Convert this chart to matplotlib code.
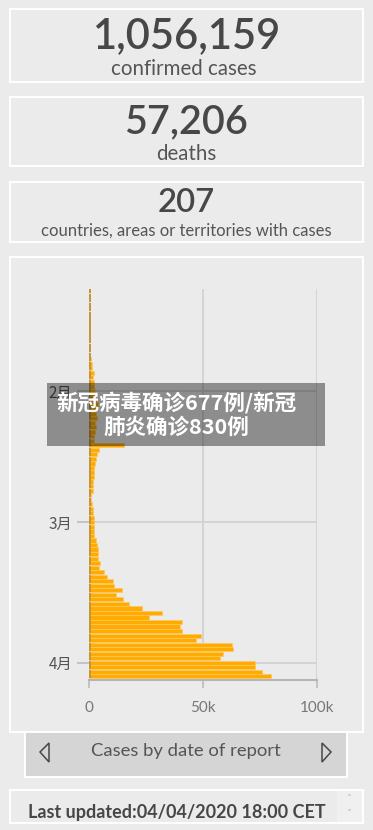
import numpy as np
import pandas as pd
import matplotlib
matplotlib.use("Agg")
import matplotlib.pyplot as plt
from matplotlib.patches import Rectangle, Polygon

# headline numbers
confirmed = "1,056,159"
deaths = "57,206"
countries = "207"
labels = ["confirmed cases", "deaths", "countries, areas or territories with cases"]

# daily new cases by date of report, 2020-01-10 .. 2020-04-04
dates = pd.date_range("2020-01-10", "2020-04-04", freq="D")
jan = [0, 10, 0, 5, 20, 0, 40, 20, 80, 140, 280, 80, 150, 130,
       300, 1000, 1200, 1300, 2300, 1700, 2000, 2100]
feb = [2600, 2800, 3200, 3900, 3700, 3200, 3400, 2700, 3000, 2500,
       2000, 2100, 15200, 4400, 3300, 2900, 2600, 2400, 2200, 2000,
       1700, 1700, 1800, 1000, 1000, 1200, 1900, 1900, 2100]
mar = [2000, 2000, 2000, 2100, 2900, 3500, 4000, 4000, 4000, 4800,
       4600, 6700, 7900, 10500, 11000, 14500, 11800, 15000, 17500, 23400,
       32000, 26300, 41000, 40000, 41000, 49000, 47000, 62700, 63300, 58700,
       57500]
apr = [72800, 72800, 76000, 79800]
cases = jan + feb + mar + apr

month_ticks = ["2020-02-01", "2020-03-01", "2020-04-01"]
month_labels = ["2月", "3月", "4月"]
x_ticks = [0, 50000, 100000]
x_labels = ["0", "50k", "100k"]

banner = "新冠病毒确诊677例/新冠\n肺炎确诊830例"
button_text = "Cases by date of report"
updated = "Last updated:04/04/2020 18:00 CET"

W, H = 373, 830
BG = "#ebebeb"
DARK = "#474747"
MID = "#555555"
CJK = ["Noto Sans CJK SC", "DejaVu Sans"]

fig = plt.figure(figsize=(W / 100, H / 100), dpi=100, facecolor=BG)

# pixel-space background layer
bg = fig.add_axes([0, 0, 1, 1], zorder=0)
bg.set_xlim(0, W)
bg.set_ylim(H, 0)
bg.axis("off")

for (y0, y1) in [(9.5, 82), (97, 166), (182, 242), (257, 732)]:
    bg.add_patch(Rectangle((9.5, y0), 353.5, y1 - y0, fill=False,
                           edgecolor="white", lw=1.4))

num_font = "Lato"
bg.text(187, 36, confirmed, ha="center", va="center", fontsize=30,
        fontweight="semibold", color=DARK, family=num_font)
bg.text(184, 69, labels[0], ha="center", va="center", fontsize=14.8,
        color=MID, family=num_font)
bg.text(186, 122, deaths, ha="center", va="center", fontsize=28.5,
        fontweight="semibold", color=DARK, family=num_font)
bg.text(186, 154, labels[1], ha="center", va="center", fontsize=14.8,
        color=MID, family=num_font)
bg.text(186, 203, countries, ha="center", va="center", fontsize=23.8,
        fontweight="semibold", color=DARK, family=num_font)
bg.text(186, 231, labels[2], ha="center", va="center", fontsize=12,
        color=MID, family=num_font)

# button
bg.add_patch(Rectangle((25, 732), 322, 45, facecolor="#d5d5d5",
                       edgecolor="white", lw=1.4))
bg.text(186, 751, button_text, ha="center", va="center", fontsize=13.3,
        color=MID, family=num_font)
bg.add_patch(Polygon([(40, 752), (49, 743), (49, 762)], closed=True,
                     fill=False, edgecolor=DARK, lw=1.1))
bg.add_patch(Polygon([(331, 752), (322, 743), (322, 762)], closed=True,
                     fill=False, edgecolor=DARK, lw=1.1))

# last updated bar
bg.add_patch(Rectangle((9.5, 790), 353.5, 33, fill=False,
                       edgecolor="white", lw=1.4))
bg.add_patch(Rectangle((337, 791), 25, 31, facecolor="#f0f0f0", lw=0))
bg.text(349, 800, "ˆ", ha="center", va="center", fontsize=7, color="#b0b0b0")
bg.text(349, 815, "ˇ", ha="center", va="center", fontsize=7, color="#b0b0b0")
bg.text(177, 812, updated, ha="center", va="center", fontsize=13,
        fontweight="bold", color=DARK, family=num_font)

# chart
left, right, top, bottom = 89, 317, 289, 680
ax = fig.add_axes([left / W, 1 - bottom / H, (right - left) / W, (bottom - top) / H],
                  zorder=5)
ax.set_facecolor("none")
ax.barh(dates, cases, height=0.92, color="#ffab00", edgecolor="#ffc862",
        lw=0.5, zorder=3)
ax.barh(dates, [900] * len(dates), height=0.92, color="#c4953a", lw=0, zorder=4)

ax.set_xlim(0, 100000)
ax.set_ylim(pd.Timestamp("2020-04-04 19:00"), pd.Timestamp("2020-01-09 12:00"))
ax.set_xticks(x_ticks)
ax.set_xticklabels(x_labels)
ax.set_yticks(pd.to_datetime(month_ticks))
ax.set_yticklabels(month_labels, family=CJK)

ax.grid(True, color="#d2d2d2", lw=1.3, zorder=0)
for s in ["top", "right", "left"]:
    ax.spines[s].set_visible(False)
ax.spines["bottom"].set_color("#b5b5b5")
ax.spines["bottom"].set_linewidth(1.5)
ax.tick_params(axis="y", length=9, width=1.3, color="#c0c0c0",
               labelsize=11, labelcolor=MID, pad=3)
ax.tick_params(axis="x", length=6, width=1.3, color="#c0c0c0",
               labelsize=11, labelcolor="#777777", pad=9)
for t in ax.get_xticklabels():
    t.set_family(num_font)

# overlay banner
top_ax = fig.add_axes([0, 0, 1, 1], zorder=10)
top_ax.set_xlim(0, W)
top_ax.set_ylim(H, 0)
top_ax.axis("off")
top_ax.patch.set_alpha(0)
top_ax.add_patch(Rectangle((47, 383), 278, 63, facecolor="black", alpha=0.4, lw=0))
top_ax.text(176, 415, banner, ha="center", va="center", fontsize=15.5,
            fontweight="bold", color="white", linespacing=1.2, family=CJK)

fig.savefig("out.png", dpi=100, facecolor=BG)
